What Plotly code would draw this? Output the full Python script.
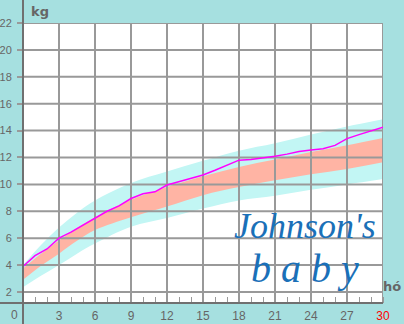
import plotly.graph_objects as go

# ---- data ----
months = list(range(31))
weight = [3.9, 4.7, 5.2, 6.0, 6.45, 6.95, 7.45, 8.0, 8.4, 8.95, 9.3, 9.45, 9.95, 10.2,
          10.45, 10.7, 11.05, 11.45, 11.8, 11.85, 11.95, 12.1, 12.25, 12.45, 12.55,
          12.65, 12.9, 13.4, 13.7, 14.0, 14.25]

band_months = [0, 1.5, 3, 4.5, 6, 9, 12, 15, 18, 21, 24, 27, 30]
outer_low = [2.35, 3.2, 4.0, 4.85, 5.6, 6.85, 7.5, 8.2, 8.8, 9.15, 9.6, 10.0, 10.4]
outer_high = [4.0, 5.5, 6.8, 7.9, 8.8, 10.1, 10.95, 11.75, 12.5, 13.05, 13.7, 14.3, 14.84]
inner_low = [2.9, 3.95, 4.85, 5.8, 6.6, 7.55, 8.35, 9.2, 9.8, 10.3, 10.75, 11.15, 11.65]
inner_high = [3.75, 4.85, 5.82, 6.75, 7.55, 8.85, 9.8, 10.6, 11.3, 11.85, 12.4, 12.91, 13.45]

x_ticks = [3, 6, 9, 12, 15, 18, 21, 24, 27, 30]
x_ticktext = [str(v) for v in x_ticks[:-1]] + ["<span style='color:#ff0000'>30</span>"]
y_ticks = [2, 4, 6, 8, 10, 12, 14, 16, 18, 20, 22]
X_MIN, X_MAX = 0, 30
Y_MIN, Y_MAX = 1.18, 22

BG = "#a6e0e0"
GRID = "#999999"
AXIS = "#707070"
TXT = "#666666"
FONT = "Liberation Sans"

fig = go.Figure()
fig.add_trace(go.Scatter(x=band_months, y=outer_low, mode="lines", line=dict(width=0, shape="spline"),
                         hoverinfo="skip", showlegend=False))
fig.add_trace(go.Scatter(x=band_months, y=outer_high, mode="lines", line=dict(width=0, shape="spline"),
                         fill="tonexty", fillcolor="#c2f6f4", hoverinfo="skip", showlegend=False))
fig.add_trace(go.Scatter(x=band_months, y=inner_low, mode="lines", line=dict(width=0, shape="spline"),
                         hoverinfo="skip", showlegend=False))
fig.add_trace(go.Scatter(x=band_months, y=inner_high, mode="lines", line=dict(width=0, shape="spline"),
                         fill="tonexty", fillcolor="#ffb4a4", hoverinfo="skip", showlegend=False))

# grid drawn above the bands
gx, gy = [], []
for v in x_ticks:
    gx += [v, v, None]
    gy += [Y_MIN, Y_MAX, None]
for v in y_ticks:
    gx += [X_MIN, X_MAX, None]
    gy += [v, v, None]
fig.add_trace(go.Scatter(x=gx, y=gy, mode="lines", line=dict(color=GRID, width=2),
                         hoverinfo="skip", showlegend=False, cliponaxis=False))

fig.add_trace(go.Scatter(x=months, y=weight, mode="lines", line=dict(color="#ff00ff", width=1.5),
                         showlegend=False))

fig.update_layout(
    width=404, height=324,
    margin=dict(l=23, r=21, t=23, b=21),
    paper_bgcolor=BG, plot_bgcolor="white",
    font=dict(family=FONT, size=12, color=TXT),
    xaxis=dict(range=[X_MIN, X_MAX], tickvals=x_ticks, ticktext=x_ticktext, showgrid=False,
               ticks="", zeroline=False, showline=False, ticklabelstandoff=4, automargin=False,
               minor=dict(dtick=1, tick0=0, ticks="inside", ticklen=6, tickcolor=GRID,
                          tickwidth=1, showgrid=False),
               tickfont=dict(family=FONT, size=12, color=TXT)),
    yaxis=dict(range=[Y_MIN, Y_MAX], tickvals=y_ticks, showgrid=False,
               ticks="outside", ticklen=5, tickcolor=GRID, tickwidth=2, zeroline=False,
               showline=False, ticklabelstandoff=3, automargin=False,
               tickfont=dict(family=FONT, size=11, color=TXT)),
)

# axis lines extending through margins
fig.add_shape(type="line", xref="paper", yref="paper", x0=0, x1=0, y0=-21/280, y1=1+23/280,
              line=dict(color=AXIS, width=2), layer="above")
fig.add_shape(type="line", xref="paper", yref="paper", x0=-23/360, x1=1, y0=0, y1=0,
              line=dict(color=AXIS, width=2), layer="above")

fig.add_annotation(xref="paper", yref="paper", x=-9/360, y=-12/280, text="0", showarrow=False,
                   font=dict(family=FONT, size=12, color=TXT), xanchor="center", yanchor="middle")
fig.add_annotation(xref="paper", yref="paper", x=6/360, y=1+11/280, text="<b>kg</b>", showarrow=False,
                   font=dict(family="DejaVu Sans", size=13, color=TXT), xanchor="left", yanchor="middle")
fig.add_annotation(xref="paper", yref="paper", x=1 - 2.5/360, y=17/280, text="<b>hó</b>", showarrow=False,
                   font=dict(family="DejaVu Sans", size=13, color=TXT), xanchor="left", yanchor="middle")

# logo
fig.add_annotation(xref="paper", yref="paper", x=(305-23)/360, y=(303-226)/280,
                   text="<i>Johnson's</i>", showarrow=False,
                   font=dict(family="Liberation Serif", size=36, color="#1a70b8"),
                   xanchor="center", yanchor="middle")
fig.add_annotation(xref="paper", yref="paper", x=(305-23)/360, y=(303-268)/280,
                   text="<i>b a b y</i>", showarrow=False,
                   font=dict(family="Liberation Serif", size=40, color="#1a70b8"),
                   xanchor="center", yanchor="middle")

fig.write_html("out.html")
